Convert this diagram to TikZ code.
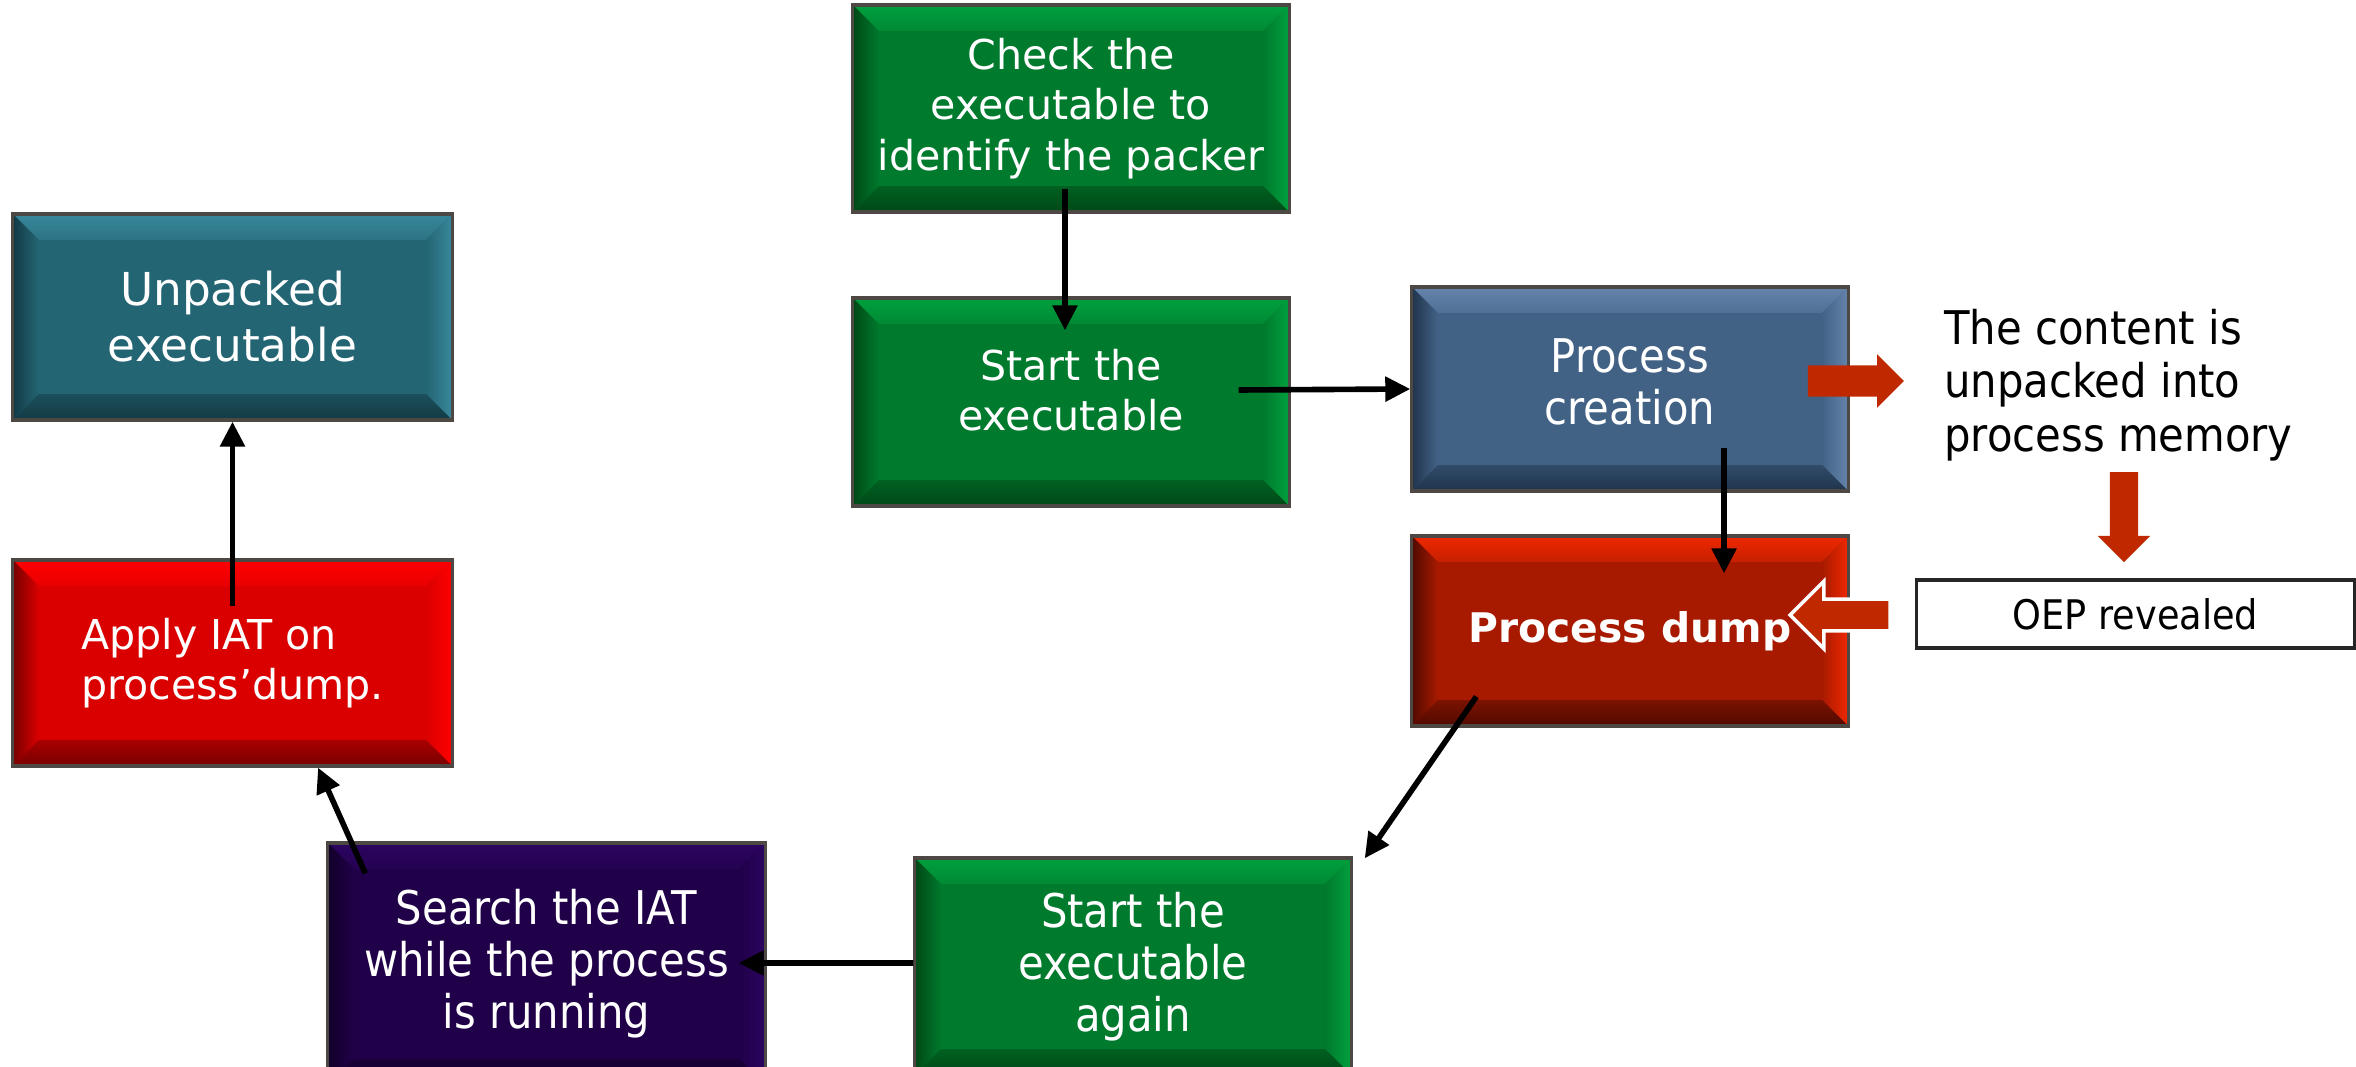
\documentclass[tikz,border=0pt]{standalone}
\usepackage{fontspec}
\setmainfont{DejaVu Sans}
\newfontfamily\condfont{DejaVu Sans Condensed}
\usetikzlibrary{arrows.meta,shapes.arrows}

% box palettes: face / light bevel / dark bevel
\definecolor{grnface}{RGB}{0,122,45}
\definecolor{grnlight}{RGB}{0,160,62}
\definecolor{grndark}{RGB}{0,72,22}
\definecolor{bluface}{RGB}{66,98,133}
\definecolor{blulight}{RGB}{100,132,172}
\definecolor{bludark}{RGB}{32,52,76}
\definecolor{dmpface}{RGB}{168,26,0}
\definecolor{dmplight}{RGB}{240,40,0}
\definecolor{dmpdark}{RGB}{80,10,0}
\definecolor{tealface}{RGB}{36,101,116}
\definecolor{teallight}{RGB}{56,136,156}
\definecolor{tealdark}{RGB}{18,58,68}
\definecolor{redface}{RGB}{218,0,0}
\definecolor{redlight}{RGB}{255,0,0}
\definecolor{reddark}{RGB}{120,0,0}
\definecolor{purface}{RGB}{32,0,72}
\definecolor{purlight}{RGB}{44,4,96}
\definecolor{purdark}{RGB}{18,0,42}
\definecolor{boxedge}{RGB}{78,72,68}
\definecolor{blockred}{RGB}{192,40,0}

\tikzset{
  bevelbox/.style n args={3}{
    rectangle, fill=#1, draw=boxedge, line width=0.9pt, inner sep=0pt,
    text=white, align=center,
    path picture={
      \path (path picture bounding box.north west) coordinate (pNW)
            (path picture bounding box.north east) coordinate (pNE)
            (path picture bounding box.south west) coordinate (pSW)
            (path picture bounding box.south east) coordinate (pSE);
      \shade[top color=#2, bottom color=#1!60!#2]
        (pNW) -- (pNE) -- ([shift={(-0.26cm,-0.26cm)}]pNE)
        -- ([shift={(0.26cm,-0.26cm)}]pNW) -- cycle;
      \shade[left color=#3, right color=#1]
        (pNW) -- ([shift={(0.26cm,-0.26cm)}]pNW)
        -- ([shift={(0.26cm,0.26cm)}]pSW) -- (pSW) -- cycle;
      \shade[left color=#1, right color=#2]
        (pNE) -- ([shift={(-0.26cm,-0.26cm)}]pNE)
        -- ([shift={(-0.26cm,0.26cm)}]pSE) -- (pSE) -- cycle;
      \shade[top color=#1!50!#3, bottom color=#3]
        (pSW) -- ([shift={(0.26cm,0.26cm)}]pSW)
        -- ([shift={(-0.26cm,0.26cm)}]pSE) -- (pSE) -- cycle;
    }
  },
  flowarrow/.style={draw=black, line width=1.6pt,
    -{Triangle[length=0.25cm,width=0.24cm]}},
  blockarrow/.style={single arrow, fill=blockred, draw=none, inner sep=0pt,
    single arrow head indent=0pt},
  verd/.style={font=\fontsize{11.7pt}{14.3pt}\selectfont},
  narrow/.style={font=\condfont\fontsize{13.2pt}{14.8pt}\selectfont}
}

\begin{document}
\begin{tikzpicture}[x=0.01cm,y=-0.01cm]
\useasboundingbox (0,0) rectangle (2356,1067);
\clip (0,0) rectangle (2356,1067);

% process steps
\node[bevelbox={grnface}{grnlight}{grndark}, verd,
      minimum width=4.36cm, minimum height=2.07cm] (check) at (1071,108.5)
  {Check the\\executable to\\identify the packer};
\node[bevelbox={grnface}{grnlight}{grndark}, verd, text depth=0.24cm,
      minimum width=4.36cm, minimum height=2.08cm] (start) at (1071,402)
  {Start the\\executable};
\node[bevelbox={bluface}{blulight}{bludark}, narrow, text depth=0.14cm,
      minimum width=4.36cm, minimum height=2.04cm] (creation) at (1630,389)
  {Process\\creation};
\node[bevelbox={dmpface}{dmplight}{dmpdark},
      font=\bfseries\fontsize{11.6pt}{14pt}\selectfont,
      minimum width=4.36cm, minimum height=1.90cm] (dump) at (1630,631)
  {Process dump};
\node[bevelbox={grnface}{grnlight}{grndark}, narrow,
      minimum width=4.36cm, minimum height=2.17cm] (again) at (1133,966.5)
  {Start the\\executable\\again};
\node[bevelbox={purface}{purlight}{purdark}, narrow,
      minimum width=4.37cm, minimum height=2.42cm] (search) at (546.5,964)
  {Search the IAT\\while the process\\is running};
\node[bevelbox={redface}{redlight}{reddark}, verd, align=left,
      minimum width=4.39cm, minimum height=2.06cm] (apply) at (232.5,663)
  {Apply IAT on\\process’dump.};
\node[bevelbox={tealface}{teallight}{tealdark},
      font=\fontsize{12.9pt}{15.9pt}\selectfont,
      minimum width=4.39cm, minimum height=2.06cm] (unpacked) at (232.5,317)
  {Unpacked\\executable};

% side notes
\node[anchor=west, align=left, font=\condfont\fontsize{13.2pt}{15.2pt}\selectfont]
  (content) at (1932,385)
  {The content is\\unpacked into\\process memory};
\node[draw=black!85, line width=0.9pt, fill=white, inner sep=0pt,
      minimum width=4.37cm, minimum height=0.68cm,
      font=\condfont\fontsize{11.6pt}{14pt}\selectfont] (oep) at (2135.5,614)
  {OEP revealed};

% red block arrows
\node[blockarrow, text height=0.15cm, text depth=0.15cm, minimum height=0.96cm,
      single arrow head extend=0.11cm] (toContent) at (1848,381) {};
\node[blockarrow, text height=0.135cm, text depth=0.135cm, minimum height=0.90cm,
      single arrow head extend=0.12cm, rotate=-90] (toOep) at (2124,510) {};
\node[blockarrow, draw=white, line width=1pt, text height=0.14cm, text depth=0.14cm,
      minimum height=1.00cm, single arrow head extend=0.18cm,
      rotate=180] (toDump) at (1848,615) {};

% flow connectors
\draw[flowarrow] ([xshift=-0.06cm,yshift=0.25cm]check.south)
  -- ([xshift=-0.06cm,yshift=-0.34cm]start.north);
\draw[flowarrow] ([xshift=-0.52cm,yshift=0.12cm]start.east) -- (creation.west);
\draw[flowarrow] ([xshift=0.94cm,yshift=0.45cm]creation.south)
  -- ([xshift=0.94cm,yshift=-0.39cm]dump.north);
\draw[flowarrow] ([xshift=0.66cm,yshift=0.31cm]dump.south west)
  -- ([xshift=0.12cm,yshift=-0.02cm]again.north east);
\draw[flowarrow] ([yshift=0.035cm]again.west) -- ([xshift=-0.28cm,yshift=0.01cm]search.east);
\draw[flowarrow] ([xshift=0.39cm,yshift=-0.32cm]search.north west)
  -- ([xshift=0.855cm]apply.south);
\draw[flowarrow] ([yshift=-0.48cm]apply.north) -- (unpacked.south);
\end{tikzpicture}
\end{document}
